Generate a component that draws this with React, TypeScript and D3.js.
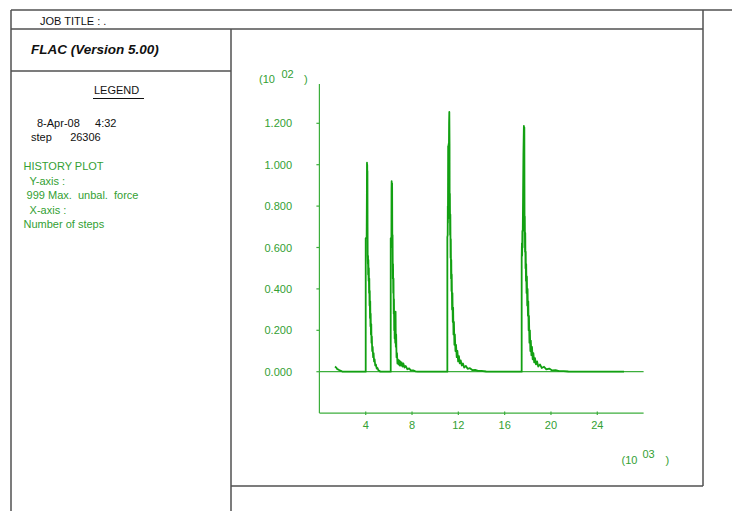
import React from "react";
import * as d3 from "d3";

// ---- data (x: steps in 10^3, y: max unbalanced force in 10^2) ----
const stage0: [number, number][] = [
  [1.35, 0.025], [1.45, 0.02], [1.55, 0.012], [1.65, 0.01], [1.75, 0.006], [1.9, 0.003], [2.0, 0], [4.0, 0],
];
const stage1: [number, number][] = [
  [4.0, 0.645], [4.08, 0.645], [4.1, 0.85], [4.11, 1.01], [4.12, 0.94], [4.13, 1.0], [4.14, 0.9], [4.15, 0.97],
  [4.16, 0.7], [4.17, 0.56], [4.19, 0.52], [4.2, 0.56], [4.21, 0.47], [4.23, 0.54], [4.25, 0.44], [4.27, 0.5],
  [4.29, 0.38], [4.31, 0.45], [4.33, 0.32], [4.35, 0.39], [4.37, 0.26], [4.39, 0.34], [4.41, 0.22], [4.43, 0.28],
  [4.45, 0.18], [4.48, 0.23], [4.5, 0.14], [4.53, 0.17], [4.56, 0.1], [4.6, 0.12], [4.64, 0.07], [4.68, 0.09],
  [4.72, 0.05], [4.77, 0.06], [4.82, 0.03], [4.88, 0.035], [4.95, 0.015], [5.02, 0.018], [5.1, 0.006],
  [5.2, 0.004], [5.25, 0], [6.16, 0],
];
const stage2: [number, number][] = [
  [6.16, 0.645], [6.22, 0.645], [6.23, 0.88], [6.24, 0.92], [6.26, 0.88], [6.28, 0.91], [6.3, 0.6], [6.32, 0.66],
  [6.34, 0.45], [6.36, 0.52], [6.38, 0.38], [6.4, 0.45], [6.42, 0.28], [6.44, 0.35], [6.46, 0.2], [6.48, 0.28],
  [6.5, 0.16], [6.52, 0.22], [6.55, 0.14], [6.58, 0.29], [6.6, 0.12], [6.63, 0.18], [6.66, 0.07], [6.7, 0.09],
  [6.74, 0.04], [6.78, 0.06], [6.83, 0.035], [6.88, 0.055], [6.93, 0.03], [6.98, 0.05], [7.04, 0.03],
  [7.1, 0.045], [7.18, 0.025], [7.25, 0.04], [7.35, 0.02], [7.45, 0.028], [7.6, 0.012], [7.75, 0.016],
  [7.9, 0.006], [8.1, 0.006], [8.3, 0.002], [8.5, 0], [11.05, 0],
];
const stage3: [number, number][] = [
  [11.05, 0.65], [11.08, 0.66], [11.09, 0.8], [11.1, 0.72], [11.12, 1.09], [11.14, 0.98], [11.16, 1.1],
  [11.18, 1.03], [11.2, 1.2], [11.22, 1.255], [11.24, 1.1], [11.25, 0.74], [11.27, 0.86], [11.29, 0.66],
  [11.31, 0.76], [11.33, 0.55], [11.35, 0.64], [11.37, 0.45], [11.39, 0.54], [11.41, 0.39], [11.43, 0.47],
  [11.46, 0.3], [11.49, 0.38], [11.52, 0.24], [11.55, 0.31], [11.58, 0.18], [11.62, 0.24], [11.66, 0.13],
  [11.7, 0.18], [11.75, 0.1], [11.8, 0.13], [11.86, 0.07], [11.92, 0.1], [11.98, 0.05], [12.05, 0.075],
  [12.12, 0.04], [12.2, 0.055], [12.3, 0.03], [12.4, 0.04], [12.5, 0.02], [12.65, 0.028], [12.8, 0.014],
  [13.0, 0.017], [13.2, 0.008], [13.45, 0.009], [13.7, 0.004], [14.0, 0.004], [14.4, 0.001], [14.75, 0],
  [17.47, 0],
];
const stage4: [number, number][] = [
  [17.47, 0.55], [17.49, 0.62], [17.51, 0.56], [17.53, 0.68], [17.55, 0.6], [17.57, 0.72], [17.59, 0.85],
  [17.62, 1.05], [17.66, 1.187], [17.68, 1.15], [17.7, 1.18], [17.71, 0.9], [17.72, 0.68], [17.74, 0.75],
  [17.76, 0.58], [17.78, 0.67], [17.8, 0.5], [17.82, 0.58], [17.84, 0.44], [17.86, 0.52], [17.89, 0.38],
  [17.92, 0.46], [17.95, 0.32], [17.98, 0.4], [18.01, 0.27], [18.04, 0.34], [18.07, 0.2], [18.1, 0.27],
  [18.14, 0.14], [18.18, 0.2], [18.22, 0.1], [18.26, 0.15], [18.31, 0.08], [18.36, 0.12], [18.42, 0.06],
  [18.48, 0.09], [18.55, 0.045], [18.62, 0.065], [18.7, 0.035], [18.8, 0.05], [18.9, 0.025], [19.05, 0.035],
  [19.2, 0.018], [19.4, 0.024], [19.6, 0.011], [19.85, 0.015], [20.1, 0.006], [20.4, 0.008], [20.7, 0.003],
  [21.1, 0.003], [21.5, 0.001], [22.05, 0], [26.31, 0],
];

const xTicks = [4, 8, 12, 16, 20, 24];
const yTicks = [0, 0.2, 0.4, 0.6, 0.8, 1.0, 1.2];
const legendLines = ["HISTORY PLOT", "  Y-axis :", " 999 Max.  unbal.  force", "  X-axis :", "Number of steps"];

const FONT = "'Liberation Sans', Arial, Helvetica, sans-serif";
const FRAME = "#505050";
const GREEN_TEXT = "#33a033";
const GREEN_AXIS = "#3cae3c";
const GREEN_DATA = "#12a012";

export default function App() {
  const x = d3.scaleLinear().domain([0, 28]).range([319.4, 643.6]);
  const y = d3.scaleLinear().domain([0, 1.2]).range([371.7, 123.3]);
  const series = [...stage0, ...stage1, ...stage2, ...stage3, ...stage4];
  const line = d3
    .line<[number, number]>()
    .x((d) => x(d[0]))
    .y((d) => y(d[1]));
  const yTop = y(1.39);
  const yBottom = y(-0.2);

  return (
    <div style={{ position: "absolute", left: 0, top: 0 }}>
      <svg width={732} height={511} style={{ display: "block", background: "#fff" }} fontFamily={FONT}>
        {/* frame */}
        <g stroke={FRAME} strokeWidth={1.5} fill="none">
          <line x1={11} y1={10} x2={732} y2={10} />
          <line x1={11} y1={10} x2={11} y2={511} />
          <line x1={11} y1={29} x2={703} y2={29} />
          <line x1={11} y1={71} x2={231} y2={71} />
          <line x1={231} y1={29} x2={231} y2={511} />
          <line x1={703} y1={10} x2={703} y2={486} />
          <line x1={231} y1={486} x2={703} y2={486} />
        </g>

        {/* header / legend text */}
        <text x={40} y={25} fontSize={11} fill="#111">JOB TITLE : .</text>
        <text x={31} y={54} fontSize={13.5} fontWeight="bold" fontStyle="italic" fill="#111">
          FLAC (Version 5.00)
        </text>
        <text x={94} y={94} fontSize={11} fill="#111">LEGEND</text>
        <line x1={93} y1={98.5} x2={144} y2={98.5} stroke="#111" strokeWidth={1} />
        <text x={37} y={127} fontSize={11} fill="#111" style={{ whiteSpace: "pre" }}>8-Apr-08     4:32</text>
        <text x={31} y={141} fontSize={11} fill="#111" style={{ whiteSpace: "pre" }}>step      26306</text>
        {legendLines.map((t, i) => (
          <text
            key={i}
            x={23.5}
            y={170 + i * 14.6}
            fontSize={11}
            fill={GREEN_TEXT}
            style={{ whiteSpace: "pre" }}
          >
            {t}
          </text>
        ))}

        {/* axes */}
        <g stroke={GREEN_AXIS} strokeWidth={1.2}>
          <line x1={x(0)} y1={yTop} x2={x(0)} y2={yBottom} />
          <line x1={x(0)} y1={yBottom} x2={x(28)} y2={yBottom} />
          <line x1={x(0)} y1={y(0)} x2={x(28)} y2={y(0)} />
          {yTicks.map((t) => (
            <line key={t} x1={x(0) - 3} y1={y(t)} x2={x(0)} y2={y(t)} />
          ))}
          {xTicks.map((t) => (
            <line key={t} x1={x(t)} y1={yBottom - 1.5} x2={x(t)} y2={yBottom + 2} />
          ))}
        </g>
        {yTicks.map((t) => (
          <text key={t} x={292} y={y(t) + 4} fontSize={11} fill={GREEN_TEXT} textAnchor="end">
            {d3.format(".3f")(t)}
          </text>
        ))}
        {xTicks.map((t) => (
          <text key={t} x={x(t)} y={429} fontSize={11} fill={GREEN_TEXT} textAnchor="middle">
            {t}
          </text>
        ))}

        {/* exponent labels */}
        <text x={259} y={83} fontSize={11} fill={GREEN_TEXT}>(10</text>
        <text x={281.5} y={78} fontSize={11} fill={GREEN_TEXT}>02</text>
        <text x={304} y={83} fontSize={11} fill={GREEN_TEXT}>)</text>
        <text x={621.5} y={464} fontSize={11} fill={GREEN_TEXT}>(10</text>
        <text x={642.5} y={457.5} fontSize={11} fill={GREEN_TEXT}>03</text>
        <text x={665.5} y={464} fontSize={11} fill={GREEN_TEXT}>)</text>

        {/* data */}
        <path d={line(series) || ""} fill="none" stroke={GREEN_DATA} strokeWidth={1.8} strokeLinejoin="round" />
      </svg>
    </div>
  );
}
